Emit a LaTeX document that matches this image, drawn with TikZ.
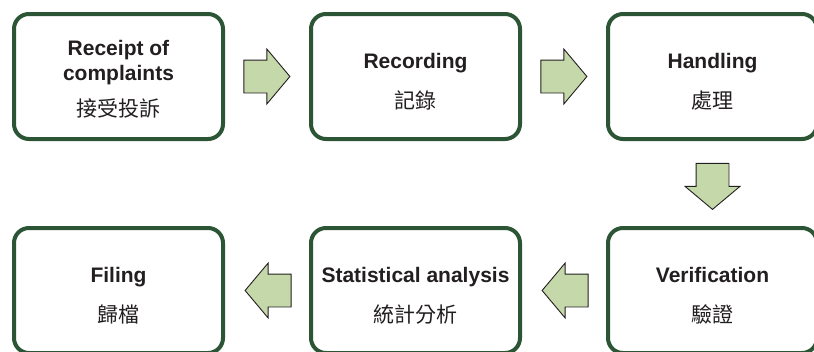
\documentclass[tikz,border=0pt]{standalone}
\usepackage{fontspec}
\setmainfont{Liberation Sans}
\newfontfamily\cjk{Noto Sans CJK TC}
\usepackage{tikz}
\usetikzlibrary{positioning,calc,shapes.arrows}
\definecolor{boxgreen}{RGB}{44,85,53}
\definecolor{arrowfill}{RGB}{197,216,170}
\definecolor{arrowline}{RGB}{35,31,32}
\newcommand{\firstline}[1]{\rule{0pt}{#1}}

\begin{document}
\begin{tikzpicture}[x=1pt,y=-1pt,node distance=297pt,
                    font=\fontsize{21}{25}\selectfont]
  \tikzstyle{stage}=[rectangle,rounded corners=15pt,draw=boxgreen,line width=4pt,
                     fill=white,text=arrowline,align=center,
                     minimum width=209pt,minimum height=125pt,inner sep=0pt]
  \tikzstyle{blockarrow}=[single arrow,draw=arrowline,fill=arrowfill,line width=0.9pt,
                          minimum height=46pt,
                          single arrow head extend=11pt,single arrow tip angle=100]
  \tikzstyle{goright}=[blockarrow,inner xsep=0pt,inner ysep=16pt,xshift=-7pt]
  \tikzstyle{goleft}=[blockarrow,shape border rotate=180,inner xsep=0pt,inner ysep=16pt,
                      xshift=8pt]
  \tikzstyle{godown}=[blockarrow,shape border rotate=270,inner xsep=16pt,inner ysep=0pt,
                      yshift=4pt]

  \useasboundingbox (0,0) rectangle (814,351);

  \node[stage] (receipt) at (118.5,76.5)
        {\firstline{20pt}\textbf{Receipt of}\\\textbf{complaints}\\[11pt]{\cjk 接受投訴}};
  \node[stage] (record)  [right of=receipt]
        {\firstline{25pt}\textbf{Recording}\\[15pt]{\cjk 記錄}};
  \node[stage] (handle)  [right of=record]
        {\firstline{25pt}\textbf{Handling}\\[15pt]{\cjk 處理}};
  \node[stage] (verify)  [below of=handle,node distance=214pt]
        {\firstline{25pt}\textbf{Verification}\\[15pt]{\cjk 驗證}};
  \node[stage] (stats)   [left of=verify]
        {\firstline{25pt}\textbf{Statistical analysis}\\[15pt]{\cjk 統計分析}};
  \node[stage] (filing)  [left of=stats]
        {\firstline{25pt}\textbf{Filing}\\[15pt]{\cjk 歸檔}};

  % block arrows between the stages
  \node[goright] (a1) at ($(receipt.east)!0.5!(record.west)$) {};
  \node[goright] (a2) at ($(record.east)!0.5!(handle.west)$) {};
  \node[godown]  (a3) at ($(handle.south)!0.5!(verify.north)$) {};
  \node[goleft]  (a4) at ($(verify.west)!0.5!(stats.east)$) {};
  \node[goleft]  (a5) at ($(stats.west)!0.5!(filing.east)$) {};

\end{tikzpicture}
\end{document}
